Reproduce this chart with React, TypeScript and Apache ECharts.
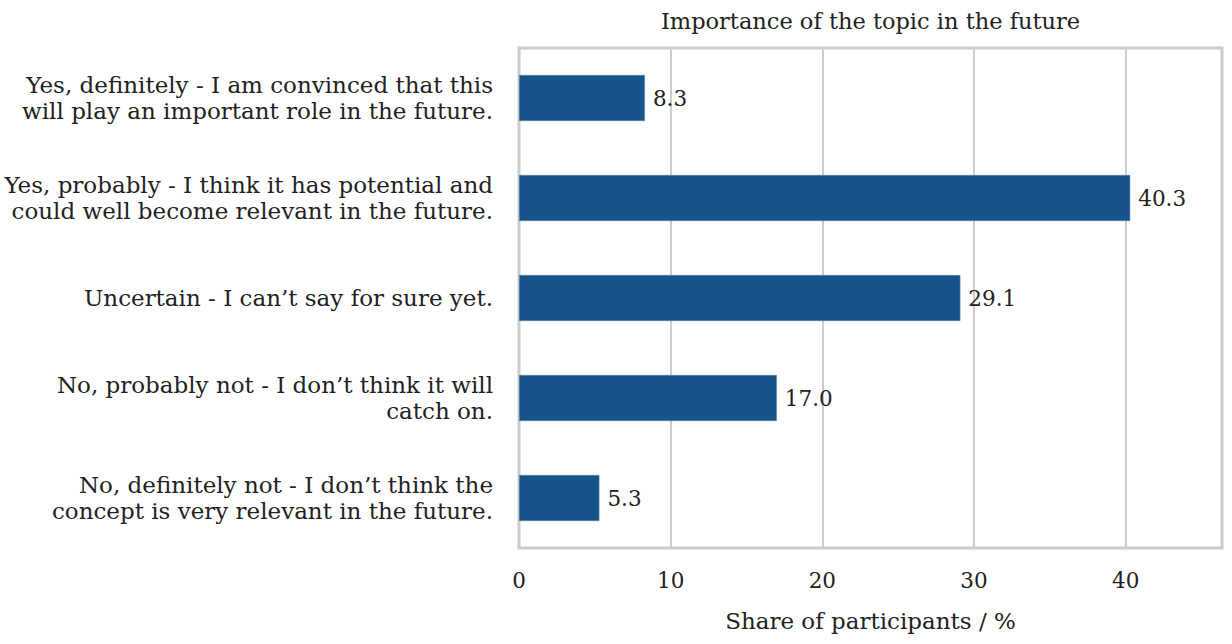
import React, { useEffect, useRef } from "react";
import * as echarts from "echarts";

// Survey answers, top to bottom
const categories: string[] = [
  "Yes, definitely - I am convinced that this\nwill play an important role in the future.",
  "Yes, probably - I think it has potential and\ncould well become relevant in the future.",
  "Uncertain - I can\u2019t say for sure yet.",
  "No, probably not - I don\u2019t think it will\ncatch on.",
  "No, definitely not - I don\u2019t think the\nconcept is very relevant in the future.",
];

// Share of participants in percent
const shares: number[] = [8.3, 40.3, 29.1, 17.0, 5.3];

const xTicks: number[] = [0, 10, 20, 30, 40];
const xMax = 46.35;

const FONT = "'DejaVu Serif', 'Liberation Serif', serif";
const FS_TEXT = 23;
const FS_NUM = 21.5;
const TEXT = "#222222";
const GRID = "#cccccc";
const BAR = "#16538a";

export default function App() {
  const ref = useRef<HTMLDivElement>(null);

  useEffect(() => {
    document.body.style.margin = "0";
    if (!ref.current) return;
    const chart = echarts.init(ref.current, undefined, { renderer: "svg" });
    const gridLeft = 519;
    const gridRight = 10;
    const width = 1232;
    chart.setOption({
      animation: false,
      backgroundColor: "#ffffff",
      textStyle: { fontFamily: FONT },
      graphic: [
        {
          type: "text",
          x: (gridLeft + (width - gridRight)) / 2,
          y: 21,
          style: {
            text: "Importance of the topic in the future",
            font: `22.5px ${FONT}`,
            fill: TEXT,
            align: "center",
            verticalAlign: "middle",
          },
        },
      ],
      grid: {
        left: gridLeft,
        right: gridRight,
        top: 48,
        bottom: 96,
        show: true,
        borderColor: GRID,
        borderWidth: 3,
        containLabel: false,
      },
      xAxis: {
        type: "value",
        min: 0,
        max: xMax,
        interval: 10,
        axisLine: { show: false },
        axisTick: { show: false },
        splitLine: { show: true, lineStyle: { color: GRID, width: 2 } },
        axisLabel: {
          show: true,
          showMaxLabel: false,
          margin: 21,
          fontSize: FS_NUM,
          color: TEXT,
          fontFamily: FONT,
          formatter: (v: number) => (xTicks.includes(v) ? String(v) : ""),
        },
        name: "Share of participants / %",
        nameLocation: "middle",
        nameGap: 61,
        nameTextStyle: { fontSize: FS_TEXT, color: TEXT, fontFamily: FONT },
      },
      yAxis: {
        type: "category",
        data: categories,
        inverse: true,
        axisLine: { show: false },
        axisTick: { show: false },
        splitLine: { show: false },
        axisLabel: {
          margin: 26,
          fontSize: FS_TEXT,
          lineHeight: 26,
          color: TEXT,
          fontFamily: FONT,
          align: "right",
        },
      },
      series: [
        {
          type: "bar",
          data: shares,
          barWidth: 46,
          itemStyle: { color: BAR, borderColor: "#5a86b0", borderWidth: 0.6 },
          label: {
            show: true,
            position: "right",
            distance: 8,
            fontSize: FS_NUM,
            color: TEXT,
            fontFamily: FONT,
            formatter: (p: any) => Number(p.value).toFixed(1),
          },
          z: 3,
        },
      ],
    });
    return () => chart.dispose();
  }, []);

  return <div ref={ref} style={{ width: 1232, height: 644 }} />;
}
